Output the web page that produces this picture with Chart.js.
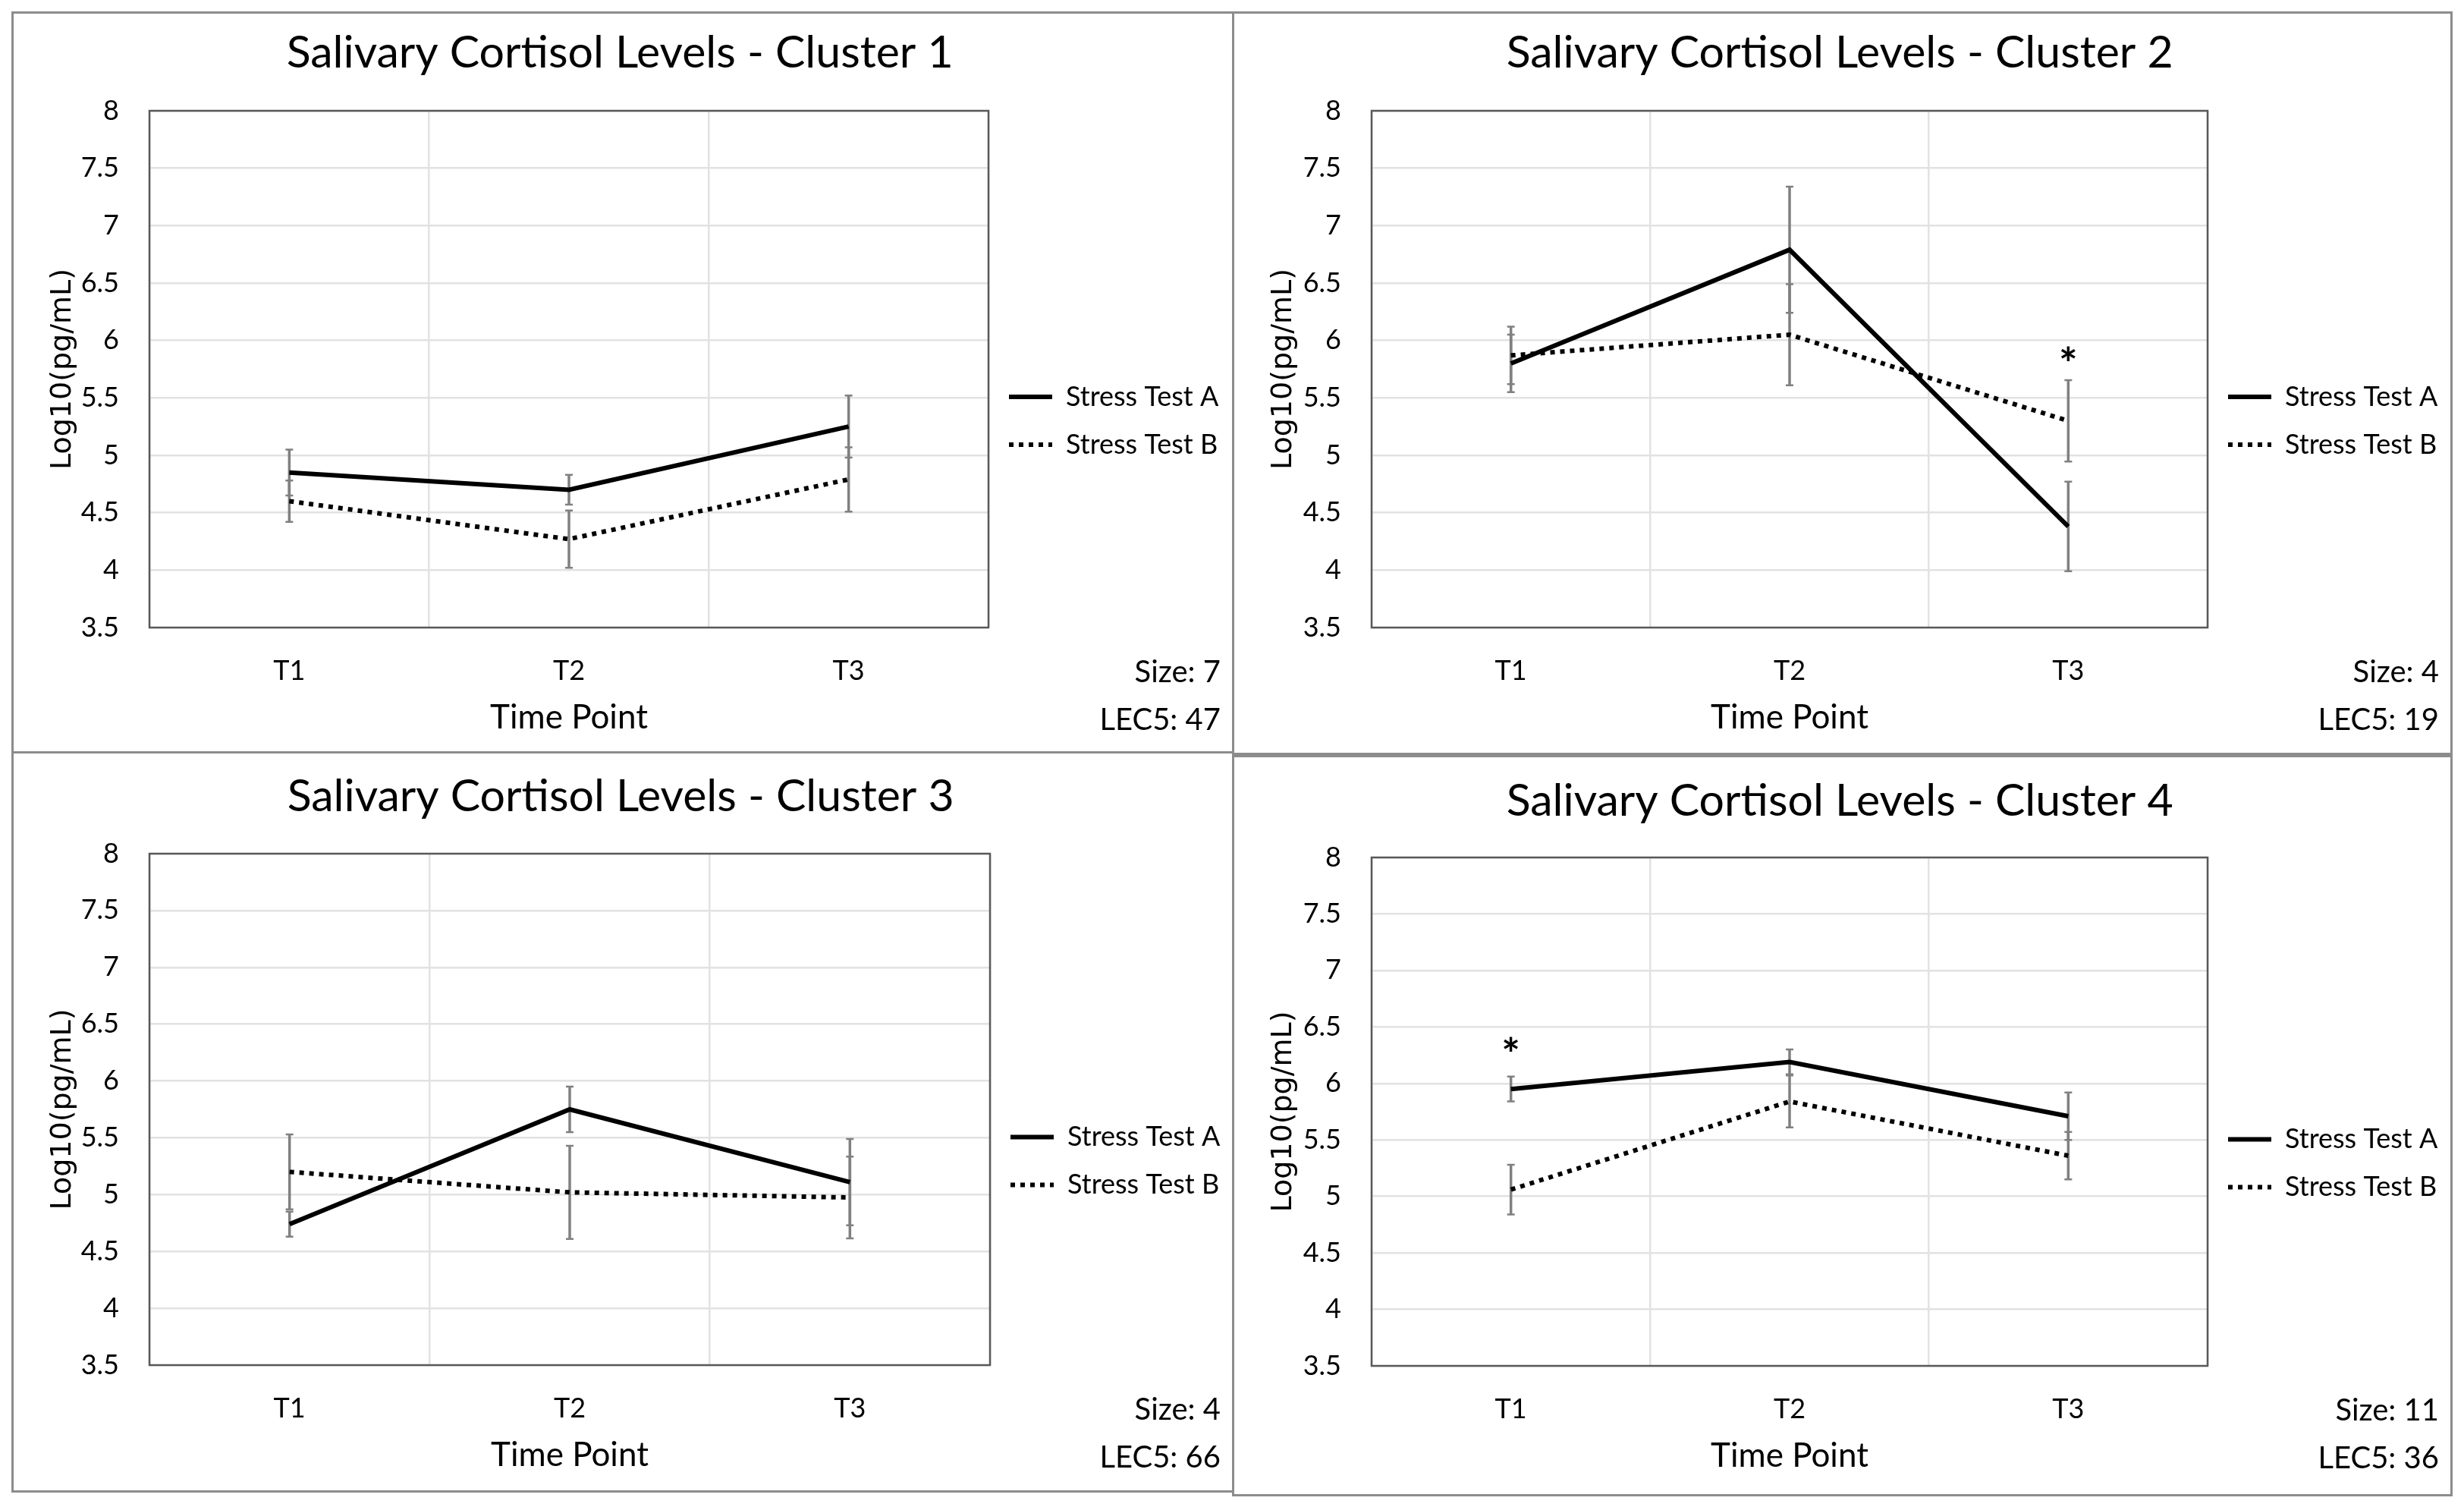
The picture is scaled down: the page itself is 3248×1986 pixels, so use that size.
<!DOCTYPE html>
<html lang="en">
<head>
<meta charset="UTF-8">
<title>Salivary Cortisol Levels</title>
<script src="https://cdn.jsdelivr.net/npm/chart.js@4"></script>
<style>
  body { margin: 0; background: #fff; width: 3248px; height: 1986px; position: relative; overflow: hidden; }
  .panel { position: absolute; box-sizing: border-box; border: 3px solid #8c8c8c; background: #fff; }
  .panel canvas { position: absolute; left: 0; top: 0; }
  .info { position: absolute; right: 15px; font-family: 'Lato', sans-serif; font-size: 40px; line-height: 40px; color: #000; text-align: right; white-space: nowrap; }
</style>
</head>
<body>
<script>
// ---- data ----
const timePoints = ['T1', 'T2', 'T3'];
const clusterNames = ['Cluster 1', 'Cluster 2', 'Cluster 3', 'Cluster 4'];
const seriesNames = ['Stress Test A', 'Stress Test B'];

const stressA = [[4.85, 4.70, 5.25], [5.80, 6.79, 4.38], [4.74, 5.75, 5.11], [5.95, 6.19, 5.71]];
const errA    = [[0.20, 0.13, 0.27], [0.25, 0.55, 0.39], [0.11, 0.20, 0.38], [0.11, 0.11, 0.21]];
const stressB = [[4.60, 4.27, 4.79], [5.87, 6.05, 5.30], [5.20, 5.02, 4.975], [5.06, 5.84, 5.36]];
const errB    = [[0.18, 0.25, 0.28], [0.25, 0.44, 0.355], [0.33, 0.41, 0.36], [0.22, 0.23, 0.21]];

const clusterSize = [7, 4, 4, 11];
const lec5 = [47, 19, 66, 36];

// significance star: category and height (y value) per cluster
const starCat = [null, 'T3', null, 'T1'];
const starY   = [null, 5.88, null, 6.34];

const yMin = 3.5, yMax = 8, yStep = 0.5;

// ---- layout (pixels) ----
const panelBoxes = [
  { left: 15,   top: 15,  width: 1612, height: 978 },
  { left: 1624, top: 15,  width: 1609, height: 980 },
  { left: 15,   top: 990, width: 1612, height: 977 },
  { left: 1624, top: 995, width: 1609, height: 977 }
];
const plotBoxes = [
  { l: 179, r: 1285, t: 128, b: 809 },
  { l: 181, r: 1283, t: 128, b: 809 },
  { l: 179, r: 1287, t: 132, b: 806 },
  { l: 181, r: 1283, t: 132, b: 802 }
];
const titleCenters = [52, 52, 57, 58];

const TITLE_SIZE = 59, TICK_SIZE = 36, XTITLE_SIZE = 44, YTITLE_SIZE = 38, LEGEND_SIZE = 36;

// plot frame around the chart area
const framePlugin = {
  id: 'frame',
  beforeDatasetsDraw(chart) {
    const { ctx, chartArea: a } = chart;
    ctx.save();
    ctx.strokeStyle = '#595959';
    ctx.lineWidth = 2.5;
    ctx.strokeRect(a.left, a.top, a.right - a.left, a.bottom - a.top);
    ctx.restore();
  }
};

// vertical error bars with small caps
const errorBarPlugin = {
  id: 'errorBars',
  beforeDatasetsDraw(chart) {
    const { ctx, scales: { x, y } } = chart;
    ctx.save();
    ctx.strokeStyle = '#808080';
    chart.data.datasets.forEach(ds => {
      ds.data.forEach((v, i) => {
        const e = ds.errors[i];
        const px = x.getPixelForValue(i);
        const top = y.getPixelForValue(v + e);
        const bot = y.getPixelForValue(v - e);
        ctx.lineWidth = 3.5;
        ctx.beginPath();
        ctx.moveTo(px, top); ctx.lineTo(px, bot);
        ctx.stroke();
        ctx.lineWidth = 2.5;
        ctx.beginPath();
        ctx.moveTo(px - 5, top); ctx.lineTo(px + 5, top);
        ctx.moveTo(px - 5, bot); ctx.lineTo(px + 5, bot);
        ctx.stroke();
      });
    });
    ctx.restore();
  }
};

// asterisk marking a significant difference
const starPlugin = {
  id: 'star',
  afterDatasetsDraw(chart) {
    const k = chart.options.plugins.star.cluster;
    if (starCat[k] == null) return;
    const { ctx, scales: { x, y } } = chart;
    const fs = 58;
    ctx.save();
    ctx.fillStyle = '#000';
    ctx.font = 'bold ' + fs + 'px Lato';
    ctx.textAlign = 'center';
    ctx.textBaseline = 'alphabetic';
    ctx.fillText('*', x.getPixelForValue(timePoints.indexOf(starCat[k])), y.getPixelForValue(starY[k]) + fs * 0.57);
    ctx.restore();
  }
};

// move the legend block a little below the middle of the plot, as in the figure
const legendDropPlugin = {
  id: 'legendDrop',
  afterLayout(chart) {
    const lg = chart.legend;
    if (!lg) return;
    lg.top += 68;
    lg.bottom += 68;
  }
};

// legend samples: use the dataset line width and dash, not the point style
function legendLabels(chart) {
  const items = Chart.defaults.plugins.legend.labels.generateLabels(chart);
  items.forEach((it, i) => {
    const ds = chart.data.datasets[i];
    it.pointStyle = 'line';
    it.lineWidth = ds.borderWidth;
    it.lineDash = ds.borderDash || [];
    it.strokeStyle = ds.borderColor;
    it.fillStyle = ds.borderColor;
  });
  return items;
}

function buildPanel(k) {
  const box = panelBoxes[k];
  const plot = plotBoxes[k];
  const panel = document.createElement('div');
  panel.className = 'panel';
  panel.style.left = box.left + 'px';
  panel.style.top = box.top + 'px';
  panel.style.width = box.width + 'px';
  panel.style.height = box.height + 'px';
  document.body.appendChild(panel);

  const cw = box.width - 6, ch = box.height - 6;
  const canvas = document.createElement('canvas');
  canvas.width = cw; canvas.height = ch;
  canvas.style.width = cw + 'px'; canvas.style.height = ch + 'px';
  panel.appendChild(canvas);

  const titleLH = TITLE_SIZE * 1.2;
  const titleTop = titleCenters[k] - titleLH / 2;
  const xTitleLH = XTITLE_SIZE * 1.2;
  const xTitlePad = ch - (plot.b + 119) - xTitleLH / 2;
  const yTitleLH = YTITLE_SIZE * 1.2;

  const chart = new Chart(canvas, {
    type: 'line',
    data: {
      labels: timePoints,
      datasets: [
        { label: seriesNames[0], data: stressA[k], errors: errA[k], borderColor: '#000', backgroundColor: '#000',
          borderWidth: 6, pointRadius: 0, tension: 0, fill: false },
        { label: seriesNames[1], data: stressB[k], errors: errB[k], borderColor: '#000', backgroundColor: '#000',
          borderWidth: 6, borderDash: [6, 7], pointRadius: 0, tension: 0, fill: false }
      ]
    },
    options: {
      responsive: false,
      animation: false,
      devicePixelRatio: 1,
      layout: { padding: { left: 0, right: 0, top: 0, bottom: 0 } },
      plugins: {
        star: { cluster: k },
        tooltip: { enabled: false },
        title: {
          display: true,
          text: 'Salivary Cortisol Levels - ' + clusterNames[k],
          color: '#000',
          font: { family: 'Lato', size: TITLE_SIZE, weight: 'normal' },
          padding: { top: titleTop, bottom: plot.t - titleTop - titleLH }
        },
        legend: {
          position: 'right',
          fullSize: false,
          maxWidth: cw - plot.r,
          labels: {
            usePointStyle: true,
            pointStyle: 'line',
            pointStyleWidth: 57,
            padding: 27,
            color: '#000',
            font: { family: 'Lato', size: LEGEND_SIZE },
            generateLabels: legendLabels
          }
        }
      },
      scales: {
        x: {
          offset: true,
          grid: { offset: true, color: '#e2e2e2', lineWidth: 2.5, drawTicks: false },
          border: { display: false },
          ticks: { color: '#000', padding: 36, font: { family: 'Lato', size: TICK_SIZE } },
          title: { display: true, text: 'Time Point', color: '#000',
                   font: { family: 'Lato', size: XTITLE_SIZE }, padding: { top: 0, bottom: xTitlePad } },
          afterFit(scale) { scale.height = ch - plot.b; }
        },
        y: {
          min: yMin, max: yMax,
          grid: { color: '#e2e2e2', lineWidth: 2.5, drawTicks: false },
          border: { display: false },
          ticks: { stepSize: yStep, color: '#000', padding: 40, font: { family: 'Lato', size: TICK_SIZE },
                   callback: v => String(Number(v)) },
          title: { display: true, text: 'Log10(pg/mL)', color: '#000',
                   font: { family: 'DejaVu Sans', size: YTITLE_SIZE }, padding: { top: 65 - yTitleLH / 2, bottom: 0 } },
          afterFit(scale) { scale.width = plot.l; }
        }
      }
    },
    plugins: [framePlugin, errorBarPlugin, starPlugin, legendDropPlugin]
  });

  // if the legend left more room than needed, pad the right side so the plot ends where it should
  const extra = chart.chartArea.right - plot.r;
  if (Math.abs(extra) > 0.5) {
    chart.options.layout.padding.right = Math.max(0, extra);
    chart.update();
  }

  const sizeDiv = document.createElement('div');
  sizeDiv.className = 'info';
  sizeDiv.textContent = 'Size: ' + clusterSize[k];
  sizeDiv.style.top = (chart.chartArea.bottom + 57 - 20) + 'px';
  panel.appendChild(sizeDiv);

  const lecDiv = document.createElement('div');
  lecDiv.className = 'info';
  lecDiv.textContent = 'LEC5: ' + lec5[k];
  lecDiv.style.top = (chart.chartArea.bottom + 120 - 20) + 'px';
  panel.appendChild(lecDiv);
}

Promise.all([
  document.fonts.load('36px Lato'),
  document.fonts.load('bold 58px Lato'),
  document.fonts.load('38px "DejaVu Sans"')
]).catch(() => {}).then(() => {
  for (let k = 0; k < 4; k++) buildPanel(k);
});
</script>
</body>
</html>
